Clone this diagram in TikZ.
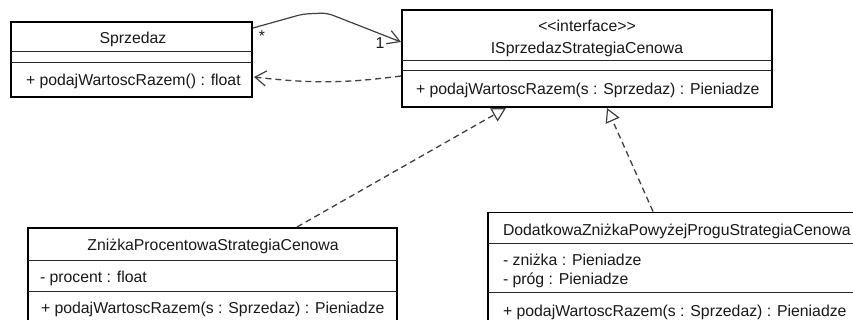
\documentclass[tikz,border=0pt]{standalone}
\usepackage{fontspec}
\setmainfont{Liberation Sans}
\usetikzlibrary{arrows.meta,calc}

\begin{document}
\begin{tikzpicture}[x=1pt,y=-1pt,
  classbox/.style={draw=black, line width=1.8pt, inner sep=0pt, outer sep=0pt,
    anchor=north west, fill=white},
  divider/.style={draw=black!85, line width=1pt},
  lbl/.style={inner sep=0pt, outer sep=0pt, text=black!90,
    font=\fontsize{15.8}{19}\selectfont},
  assoc/.style={draw=black!75, line width=1.2pt,
    -{Straight Barb[length=12pt,width=14pt,line width=1.2pt]}},
  depend/.style={draw=black!75, line width=1.3pt, dash pattern=on 6pt off 4pt,
    -{Straight Barb[length=11pt,width=15pt,line width=1.2pt]}},
  realize/.style={draw=black!75, line width=1.3pt, dash pattern=on 6pt off 4pt,
    -{Triangle[length=14pt,width=15pt,fill=white,line width=1.2pt]}}
]
\clip (0,0) rectangle (853,320);
\fill[white] (0,0) rectangle (853,320);

% class Sprzedaz
\node[classbox, minimum width=241pt, minimum height=75pt] (spr) at (11,22) {};
\draw[divider] ($(spr.north west)+(0,30)$) -- ($(spr.north east)+(0,30)$);
\draw[divider] ($(spr.north west)+(0,41)$) -- ($(spr.north east)+(0,41)$);
\node[lbl, anchor=base] (sprname) at (133,43.5) {Sprzedaz};
\node[lbl, anchor=base west] (sprop) at (26,86) {+ podajWartoscRazem() : float};

% interface ISprzedazStrategiaCenowa
\node[classbox, minimum width=370pt, minimum height=97pt] (iface) at (402,10) {};
\draw[divider] ($(iface.north west)+(0,51)$) -- ($(iface.north east)+(0,51)$);
\draw[divider] ($(iface.north west)+(0,61)$) -- ($(iface.north east)+(0,61)$);
\node[lbl, anchor=base] (ifstereo) at (587,32) {<\kern0pt<interface>\kern0pt>};
\node[lbl, anchor=base] (ifname) at (587,53.5) {ISprzedazStrategiaCenowa};
\node[lbl, anchor=base west] (ifop) at (416,95) {+ podajWartoscRazem(s : Sprzedaz) : Pieniadze};

% class ZniżkaProcentowaStrategiaCenowa
\node[classbox, minimum width=369pt, minimum height=100pt] (znz) at (28,228) {};
\draw[divider] ($(znz.north west)+(0,32)$) -- ($(znz.north east)+(0,32)$);
\draw[divider] ($(znz.north west)+(0,63)$) -- ($(znz.north east)+(0,63)$);
\node[lbl, anchor=base] (znzname) at (213,251) {ZniżkaProcentowaStrategiaCenowa};
\node[lbl, anchor=base west] (znzattr) at (40,282) {- procent : float};
\node[lbl, anchor=base west] (znzop) at (41,313) {+ podajWartoscRazem(s : Sprzedaz) : Pieniadze};

% class DodatkowaZniżkaPowyżejProguStrategiaCenowa
\node[classbox, minimum width=400pt, minimum height=115pt] (dod) at (488,212.5) {};
\draw[divider] ($(dod.north west)+(0,30.5)$) -- ($(dod.north east)+(0,30.5)$);
\draw[divider] ($(dod.north west)+(0,79.5)$) -- ($(dod.north east)+(0,79.5)$);
\node[lbl, anchor=base west] (dodname) at (503,236) {DodatkowaZniżkaPowyżejProguStrategiaCenowa};
\node[lbl, anchor=base west] (dodattra) at (503,265) {- zniżka : Pieniadze};
\node[lbl, anchor=base west] (dodattrb) at (503,284) {- próg : Pieniadze};
\node[lbl, anchor=base west] (dodop) at (503,316) {+ podajWartoscRazem(s : Sprzedaz) : Pieniadze};

% association Sprzedaz -> interface
\draw[assoc, rounded corners=6pt] ($(spr.north east)+(1,6)$) -- (303,14) -- (327,13)
  -- ($(iface.north west)+(-1,32)$);
\node[lbl, anchor=base] (mstar) at (262,42) {*};
\node[lbl, anchor=base] (mone) at (380,48.5) {1};

% dependency interface -> Sprzedaz
\draw[depend] ($(iface.north west)+(-1,66)$) to[bend left=7] ($(spr.north east)+(2,55)$);

% realizations
\draw[realize] ($(znz.north west)+(269,-1)$) -- ($(iface.south west)+(104,1)$);
\draw[realize] ($(dod.north west)+(165,-1)$) -- ($(iface.south west)+(205,1)$);
\end{tikzpicture}
\end{document}
